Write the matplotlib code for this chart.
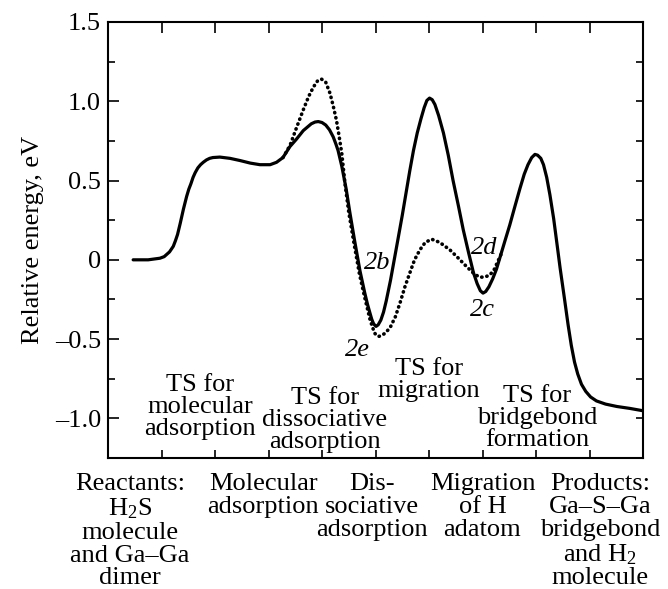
import matplotlib
matplotlib.use("Agg")
import matplotlib.pyplot as plt
from matplotlib.ticker import FixedLocator, FixedFormatter, MultipleLocator

plt.rcParams['font.family'] = ['Liberation Serif', 'DejaVu Serif']
plt.rcParams['mathtext.fontset'] = 'custom'
plt.rcParams['mathtext.rm'] = 'Liberation Serif'
plt.rcParams['mathtext.it'] = 'Liberation Serif:italic'

# ---- data ----
solid_x = [0.47, 0.75, 0.97, 1.05, 1.15, 1.22, 1.26, 1.30, 1.35, 1.38, 1.41, 1.44, 1.47,
           1.51, 1.55, 1.59, 1.63, 1.68, 1.73, 1.78, 1.84, 1.90, 1.96, 2.09, 2.28, 2.47,
           2.66, 2.84, 3.03, 3.15, 3.27, 3.40, 3.52, 3.65, 3.80, 3.87, 3.93, 4.00, 4.07,
           4.14, 4.21, 4.26, 4.30, 4.37, 4.45, 4.52, 4.61, 4.71, 4.80, 4.85, 4.90, 4.93,
           4.96, 4.98, 5.01, 5.05, 5.10, 5.15, 5.20, 5.28, 5.35, 5.42, 5.50, 5.58, 5.64,
           5.71, 5.78, 5.85, 5.91, 5.96, 6.01, 6.06, 6.11, 6.18, 6.27, 6.36, 6.45, 6.55,
           6.64, 6.74, 6.83, 6.90, 6.96, 7.01, 7.06, 7.12, 7.19, 7.26, 7.34, 7.42, 7.51,
           7.60, 7.70, 7.78, 7.85, 7.92, 7.98, 8.03, 8.09, 8.14, 8.20, 8.26, 8.33, 8.40,
           8.45, 8.53, 8.60, 8.66, 8.72, 8.78, 8.85, 8.93, 9.02, 9.13, 9.30, 9.51, 9.75, 10.0]
solid_y = [0.0, 0.0, 0.01, 0.02, 0.05, 0.085, 0.12, 0.16, 0.23, 0.275, 0.32, 0.36, 0.40,
           0.445, 0.48, 0.52, 0.55, 0.58, 0.60, 0.615, 0.63, 0.64, 0.645, 0.648, 0.64, 0.626,
           0.61, 0.60, 0.60, 0.615, 0.645, 0.714, 0.76, 0.815, 0.858, 0.869, 0.872, 0.866, 0.85,
           0.82, 0.775, 0.73, 0.69, 0.59, 0.45, 0.30, 0.12, -0.07, -0.21, -0.28, -0.34, -0.375,
           -0.40, -0.41, -0.42, -0.41, -0.38, -0.33, -0.26, -0.13, 0.0, 0.13, 0.28, 0.44, 0.56,
           0.69, 0.80, 0.89, 0.96, 1.005, 1.02, 1.01, 0.98, 0.91, 0.80, 0.66, 0.50, 0.34,
           0.19, 0.045, -0.08, -0.15, -0.195, -0.21, -0.20, -0.17, -0.12, -0.06, 0.03, 0.12, 0.22,
           0.33, 0.45, 0.54, 0.60, 0.645, 0.665, 0.66, 0.64, 0.60, 0.52, 0.41, 0.26, 0.08,
           -0.05, -0.24, -0.41, -0.54, -0.645, -0.72, -0.785, -0.83, -0.865, -0.89, -0.91, -0.925, -0.937, -0.952]

dotted_x = [3.27, 3.40, 3.52, 3.65, 3.75, 3.84, 3.92, 3.99, 4.07, 4.15, 4.21, 4.27, 4.32,
            4.37, 4.43, 4.50, 4.60, 4.70, 4.80, 4.90, 4.98, 5.02, 5.06, 5.11, 5.17, 5.27,
            5.37, 5.46, 5.55, 5.64, 5.73, 5.83, 5.93, 6.05, 6.20, 6.39, 6.55, 6.70, 6.85,
            6.95, 7.05, 7.14, 7.22, 7.30, 7.38]
dotted_y = [0.645, 0.72, 0.83, 0.946, 1.03, 1.09, 1.13, 1.14, 1.12, 1.05, 0.97, 0.88, 0.78,
            0.67, 0.48, 0.30, 0.10, -0.09, -0.24, -0.38, -0.46, -0.478, -0.483, -0.478, -0.465, -0.43,
            -0.36, -0.27, -0.17, -0.084, 0.0, 0.063, 0.11, 0.13, 0.11, 0.063, 0.01, -0.042, -0.09,
            -0.11, -0.108, -0.095, -0.06, 0.0, 0.06]

ytick_vals = [1.5, 1.0, 0.5, 0.0, -0.5, -1.0]
ytick_labels = ["1.5", "1.0", "0.5", "0", "\u20130.5", "\u20131.0"]

stage_labels = ["Reactants:\nH$_2$S\nmolecule\nand Ga\u2013Ga\ndimer",
                "Molecular\nadsorption",
                "Dis-\nsociative\nadsorption",
                "Migration\nof H\nadatom",
                "Products:\nGa\u2013S\u2013Ga\nbridgebond\nand H$_2$\nmolecule"]
stage_x = [0.41, 2.9, 4.93, 7.0, 9.2]

ts_labels = ["TS for\nmolecular\nadsorption",
             "TS for\ndissociative\nadsorption",
             "TS for\nmigration",
             "TS for\nbridgebond\nformation"]
ts_x = [1.72, 4.05, 6.0, 8.02]
ts_y = [-0.72, -0.80, -0.62, -0.79]

point_labels = ["2b", "2e", "2c", "2d"]
point_x = [5.03, 4.67, 7.0, 7.03]
point_y = [-0.02, -0.57, -0.315, 0.075]

# ---- figure ----
fig = plt.figure(figsize=(6.68, 5.89), dpi=100)
ax = fig.add_axes([108/668, 131/589, 535/668, 436/589])

ax.plot(dotted_x, dotted_y, color='black', lw=2.6, linestyle=(0, (0.1, 1.35)),
        dash_capstyle='round', zorder=2)
ax.plot(solid_x, solid_y, color='black', lw=2.3, solid_capstyle='round',
        solid_joinstyle='round', zorder=3)

ax.set_xlim(0, 10)
ax.set_ylim(-1.25, 1.5)

for s in ax.spines.values():
    s.set_linewidth(1.5)

FS = 19
ax.xaxis.set_major_locator(FixedLocator(list(range(1, 10))))
ax.set_xticklabels([])
ax.tick_params(axis='x', which='major', direction='in', length=5.5, width=1.2,
               top=True, bottom=True, labelbottom=False)
ax.yaxis.set_major_locator(FixedLocator(ytick_vals))
ax.yaxis.set_major_formatter(FixedFormatter(ytick_labels))
ax.yaxis.set_minor_locator(MultipleLocator(0.25))
ax.tick_params(axis='y', which='major', direction='in', length=8, width=1.2,
               left=True, right=True, labelsize=FS, pad=5)
ax.tick_params(axis='y', which='minor', direction='in', length=5, width=1.2,
               left=True, right=True)
for t in ax.xaxis.get_major_ticks():
    t.tick2line.set_markersize(8)
for t in ax.yaxis.get_major_ticks():
    t.tick2line.set_markersize(5)

ax.set_ylabel("Relative energy, eV", fontsize=FS, labelpad=8)

for lab, x in zip(stage_labels, stage_x):
    ax.text(x, -0.035, lab, transform=ax.get_xaxis_transform(), ha='center', va='top',
            fontsize=FS, linespacing=1.05, clip_on=False, multialignment='center')

for lab, x, y in zip(ts_labels, ts_x, ts_y):
    ax.text(x, y, lab, ha='center', va='top', fontsize=FS, linespacing=1.0,
            multialignment='center')

for lab, x, y in zip(point_labels, point_x, point_y):
    ax.text(x, y, lab, ha='center', va='center', fontsize=FS, style='italic')

fig.savefig("out.png", dpi=100)
